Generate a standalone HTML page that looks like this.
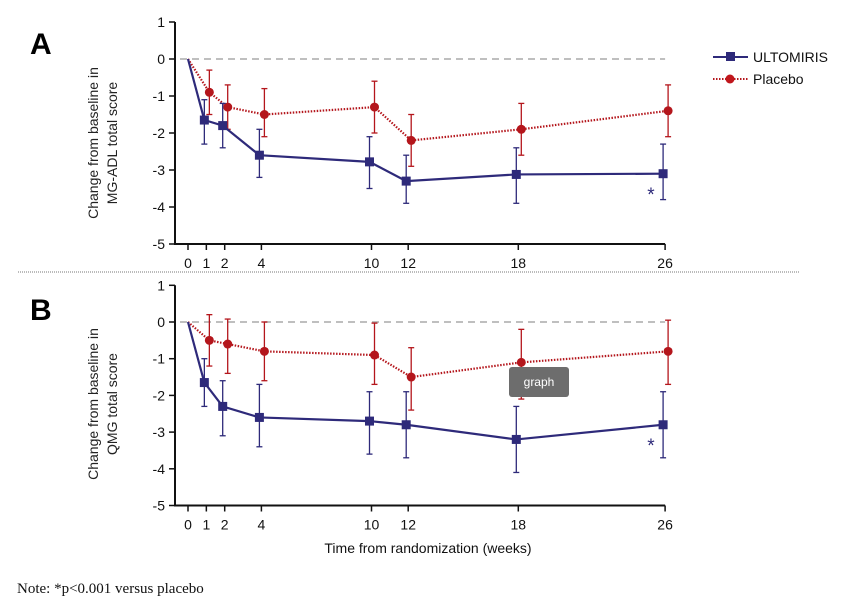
<!DOCTYPE html>
<html><head><meta charset="utf-8"><style>
body{margin:0;background:#fff;}
svg{display:block;font-family:"Liberation Sans",sans-serif;}
</style></head><body>
<svg id="s" width="845" height="608" viewBox="0 0 845 608" xmlns="http://www.w3.org/2000/svg">
<text x="30" y="54" font-size="30" font-weight="bold" fill="#000">A</text>
<text x="30" y="320" font-size="30" font-weight="bold" fill="#000">B</text>
<line x1="18" y1="272" x2="800" y2="272" stroke="#777" stroke-width="1" stroke-dasharray="1,1"/>
<text transform="translate(98,143) rotate(-90)" text-anchor="middle" font-size="14" fill="#222">Change from baseline in</text>
<text transform="translate(117,143) rotate(-90)" text-anchor="middle" font-size="14" fill="#222">MG-ADL total score</text>
<text transform="translate(98,404) rotate(-90)" text-anchor="middle" font-size="14" fill="#222">Change from baseline in</text>
<text transform="translate(117,404) rotate(-90)" text-anchor="middle" font-size="14" fill="#222">QMG total score</text>
<text x="428" y="553" text-anchor="middle" font-size="14" fill="#111">Time from randomization (weeks)</text>
<text x="17" y="593" font-family="Liberation Serif,serif" font-size="15" fill="#111">Note: *p&lt;0.001 versus placebo</text>
<line x1="713" y1="57" x2="748" y2="57" stroke="#2e2a7a" stroke-width="2"/>
<rect x="726" y="52" width="9" height="9" fill="#2e2a7a"/>
<text x="753" y="62" font-size="14" fill="#111">ULTOMIRIS</text>
<line x1="713" y1="79" x2="748" y2="79" stroke="#b4161c" stroke-width="2" stroke-dasharray="1.5,1.5"/>
<circle cx="730" cy="79" r="4.5" fill="#c0161c"/>
<text x="753" y="84" font-size="14" fill="#111">Placebo</text>
<g id="g"></g>
<rect x="509" y="367" width="60" height="30" rx="3" fill="#6d6d6d"/>
<text x="539" y="386" text-anchor="middle" font-size="12" fill="#fff">graph</text>
</svg>
<script>
var g=document.getElementById('g'),h='';
var W=[0,1,2,4,10,12,18,26];
function X(w){return 188+w*18.35;}
function panel(y0,u,U,P,astY){
 function Y(v){return y0-v*u;}
 var yTop=Y(1),yBot=Y(-5);
 h+='<line x1="175" y1="'+yTop+'" x2="175" y2="'+yBot+'" stroke="#111" stroke-width="2"/>';
 h+='<line x1="174" y1="'+yBot+'" x2="'+X(26)+'" y2="'+yBot+'" stroke="#111" stroke-width="2"/>';
 for(var v=1;v>=-5;v--){h+='<line x1="169" y1="'+Y(v)+'" x2="175" y2="'+Y(v)+'" stroke="#111" stroke-width="1.5"/>';
  h+='<text x="165" y="'+(Y(v)+5)+'" text-anchor="end" font-size="14" fill="#111">'+v+'</text>';}
 W.forEach(function(w){h+='<line x1="'+X(w)+'" y1="'+yBot+'" x2="'+X(w)+'" y2="'+(yBot+6)+'" stroke="#111" stroke-width="1.5"/>';
  h+='<text x="'+X(w)+'" y="'+(yBot+24)+'" text-anchor="middle" font-size="14" fill="#111">'+w+'</text>';});
 h+='<line x1="180" y1="'+Y(0)+'" x2="'+X(26)+'" y2="'+Y(0)+'" stroke="#aaa" stroke-width="1.5" stroke-dasharray="7,5"/>';
 function ser(D,col,dash,off,mk){
  var pts=[[X(0),Y(0)]];D.forEach(function(d,i){pts.push([X(W[i+1])+off,Y(d[0])]);});
  h+='<polyline fill="none" stroke="'+col+'" stroke-width="2.2" '+(dash?'stroke-dasharray="1.5,1.5"':'')+' points="'+pts.map(function(p){return p.join(',')}).join(' ')+'"/>';
  D.forEach(function(d,i){var x=X(W[i+1])+off;
   h+='<line x1="'+x+'" y1="'+Y(d[1])+'" x2="'+x+'" y2="'+Y(d[2])+'" stroke="'+col+'" stroke-width="1.3"/>';
   h+='<line x1="'+(x-3)+'" y1="'+Y(d[1])+'" x2="'+(x+3)+'" y2="'+Y(d[1])+'" stroke="'+col+'" stroke-width="1.3"/>';
   h+='<line x1="'+(x-3)+'" y1="'+Y(d[2])+'" x2="'+(x+3)+'" y2="'+Y(d[2])+'" stroke="'+col+'" stroke-width="1.3"/>';
   if(mk=='s')h+='<rect x="'+(x-4.5)+'" y="'+(Y(d[0])-4.5)+'" width="9" height="9" fill="'+col+'"/>';
   else h+='<circle cx="'+x+'" cy="'+Y(d[0])+'" r="4.5" fill="'+col+'"/>';});
 }
 ser(P,'#b4161c',true,3,'c');
 ser(U,'#2e2a7a',false,-2,'s');
 h+='<text x="651" y="'+(astY+4)+'" text-anchor="middle" font-size="19" fill="#2e2a7a">*</text>';
}
panel(59,37,
 [[-1.65,-1.1,-2.3],[-1.8,-1.2,-2.4],[-2.6,-1.9,-3.2],[-2.78,-2.1,-3.5],[-3.3,-2.6,-3.9],[-3.12,-2.4,-3.9],[-3.1,-2.3,-3.8]],
 [[-0.9,-0.3,-1.5],[-1.3,-0.7,-1.9],[-1.5,-0.8,-2.1],[-1.3,-0.6,-2.0],[-2.2,-1.5,-2.9],[-1.9,-1.2,-2.6],[-1.4,-0.7,-2.1]],197);
panel(322,36.7,
 [[-1.65,-1.0,-2.3],[-2.3,-1.6,-3.1],[-2.6,-1.7,-3.4],[-2.7,-1.9,-3.6],[-2.8,-1.9,-3.7],[-3.2,-2.3,-4.1],[-2.8,-1.9,-3.7]],
 [[-0.5,0.2,-1.2],[-0.6,0.08,-1.4],[-0.8,0,-1.6],[-0.9,-0.03,-1.7],[-1.5,-0.7,-2.4],[-1.1,-0.2,-2.1],[-0.8,0.05,-1.7]],448);
g.innerHTML=h;
</script>
</body></html>
